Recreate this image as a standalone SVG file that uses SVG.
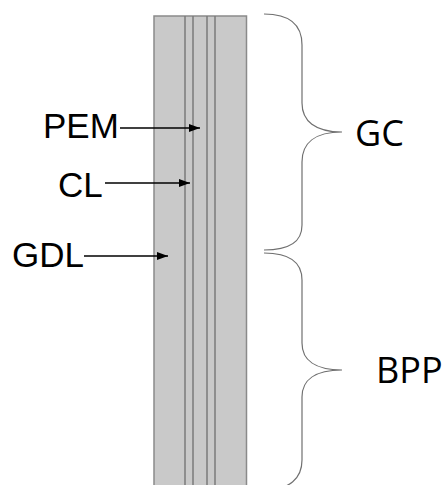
<svg xmlns="http://www.w3.org/2000/svg" width="446" height="485" viewBox="0 0 446 485">
  <defs>
    <marker id="head" markerWidth="11" markerHeight="8" refX="11" refY="4" orient="auto" markerUnits="userSpaceOnUse">
      <path d="M0,0 L11,4 L0,8 Z" fill="#000"/>
    </marker>
    <style>
      .label { font-family: "Liberation Sans", Arial, sans-serif; font-size: 35px; fill: #000; }
      .group { font-family: "Open Sans", "Noto Sans", sans-serif; font-size: 36px; fill: #000; }
      .layer { stroke: #7a7a7a; stroke-width: 1.5; }
      .brace { fill: none; stroke: #707070; stroke-width: 1.2; }
      .arrow { stroke: #000; stroke-width: 1.3; fill: none; }
    </style>
  </defs>

  <!-- cell stack: GDL | CL | PEM | CL | GDL -->
  <g id="stack">
    <rect x="154" y="16" width="92.5" height="475" fill="#c9c9c9" stroke="#8a8a8a" stroke-width="1.5"/>
    <line class="layer" x1="185" y1="16" x2="185" y2="485"/>
    <line class="layer" x1="193" y1="16" x2="193" y2="485"/>
    <line class="layer" x1="207" y1="16" x2="207" y2="485"/>
    <line class="layer" x1="215" y1="16" x2="215" y2="485"/>
  </g>

  <g id="PEM"><text class="label" x="43" y="138">PEM</text></g>
  <g id="CL"><text class="label" x="58" y="197">CL</text></g>
  <g id="GDL"><text class="label" x="12" y="267">GDL</text></g>

  <g id="connectors">
    <line class="arrow" x1="120" y1="128" x2="200" y2="128" marker-end="url(#head)"/>
    <line class="arrow" x1="105" y1="183" x2="190" y2="183" marker-end="url(#head)"/>
    <line class="arrow" x1="84" y1="256" x2="168" y2="256" marker-end="url(#head)"/>
  </g>

  <g id="GC">
    <path class="brace" d="M264,14 C290,14 302,25 302,45 L302,103 C302,121 315,132 342,132 C315,132 302,143 302,162 L302,225 C302,242 290,250 264,250"/>
    <text class="group" x="355" y="146">GC</text>
  </g>

  <g id="BPP">
    <path class="brace" d="M264,253 C290,253 302,262 302,280 L302,343 C302,360 315,370 342,370 C315,370 302,380 302,397 L302,460 C302,478 290,490 264,490"/>
    <text class="group" x="376" y="383">BPP</text>
  </g>
</svg>
